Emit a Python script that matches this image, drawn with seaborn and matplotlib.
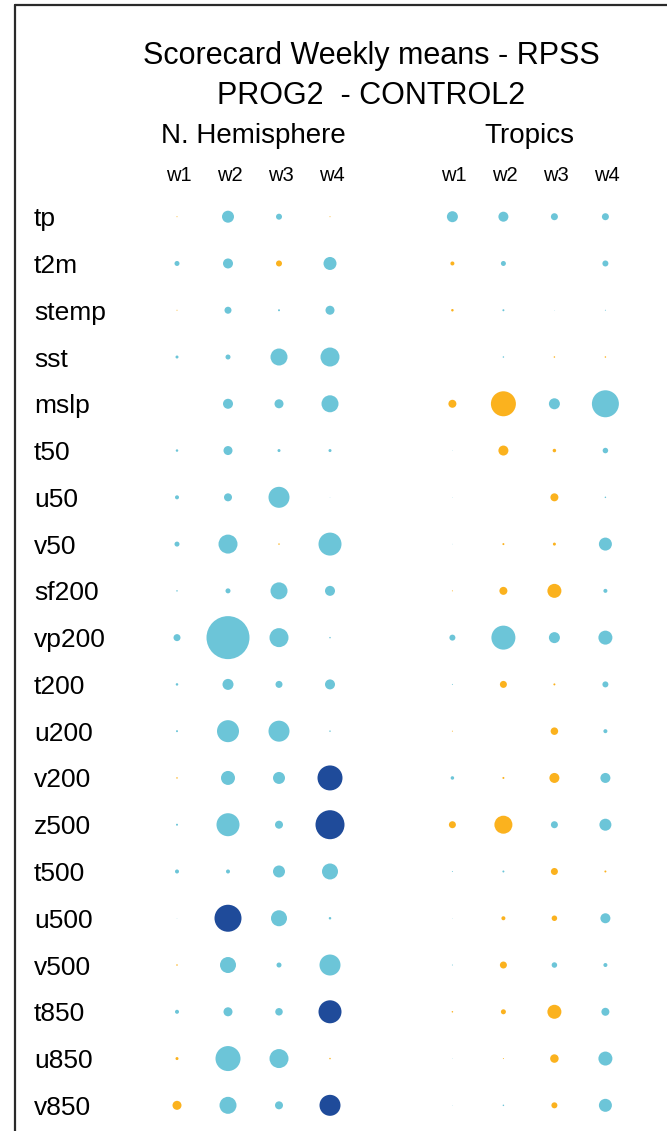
import pandas as pd
import seaborn as sns
import matplotlib.pyplot as plt
from matplotlib import transforms
from matplotlib.lines import Line2D

sns.set_theme(style='white')
plt.rcParams['font.family'] = ['Liberation Sans', 'DejaVu Sans']
plt.rcParams['text.color'] = 'black'

# Data: dot diameter (px) and kind: b = better, o = worse, d = significantly better
variables = ['tp', 't2m', 'stemp', 'sst', 'mslp', 't50', 'u50', 'v50', 'sf200', 'vp200',
             't200', 'u200', 'v200', 'z500', 't500', 'u500', 'v500', 't850', 'u850', 'v850']
weeks = ['w1', 'w2', 'w3', 'w4']
regions = ['N. Hemisphere', 'Tropics']

nh_size = [
    [1, 12, 6, 1], [5, 10, 6, 13], [1, 7, 2, 9], [3, 5, 17, 19], [0, 10, 9, 17],
    [2.5, 9, 3, 3], [4, 8, 21, 0.5], [5, 19, 1.5, 23], [1.5, 5, 17, 10], [7, 43, 19, 1.5],
    [2.5, 11, 7, 10], [2, 22, 21, 1.5], [1.5, 14, 12, 25], [2, 23, 8, 29], [4, 4, 12, 16],
    [0.5, 27, 16, 2.5], [1.5, 16, 5, 21], [4, 9, 7.5, 23], [3, 25, 19, 1.5], [9, 17, 8, 21],
]
nh_kind = [
    'obbo', 'bbob', 'obbb', 'bbbb', 'bbbb',
    'bbbb', 'bbbb', 'bbob', 'bbbb', 'bbbb',
    'bbbb', 'bbbb', 'obbd', 'bbbd', 'bbbb',
    'bdbb', 'obbb', 'bbbd', 'obbo', 'obbd',
]
tr_size = [
    [11, 10, 7, 7], [4, 5, 0, 6], [2.5, 2, 0.5, 1], [0, 1.5, 1.5, 1.5], [8, 25, 11, 27],
    [0.5, 10, 3.5, 5.5], [0.5, 0, 8, 1.5], [0.5, 2, 3, 13], [1, 8, 14, 4], [6, 24, 11, 14],
    [1, 7, 2, 6], [1, 0, 7.5, 4], [3.5, 2, 10, 10], [7, 18, 7, 12], [1, 2, 7, 2],
    [0.5, 4, 5.5, 10], [1, 7, 5.5, 4], [1.5, 5, 14, 8], [0.5, 1, 8.5, 14], [0.5, 1.5, 6, 13],
]
tr_kind = [
    'bbbb', 'obbb', 'obbb', 'bboo', 'oobb',
    'boob', 'bbob', 'boob', 'ooob', 'bbbb',
    'boob', 'obob', 'boob', 'oobb', 'bboo',
    'boob', 'bobb', 'ooob', 'boob', 'bbob',
]

rows = []
for reg, sizes, kinds in [(regions[0], nh_size, nh_kind), (regions[1], tr_size, tr_kind)]:
    for i, var in enumerate(variables):
        for j, wk in enumerate(weeks):
            rows.append({'region': reg, 'variable': var, 'week': wk,
                         'dot': sizes[i][j], 'kind': kinds[i][j]})
df = pd.DataFrame(rows)

# layout (pixels)
DPI = 100
W, H = 667, 1131
x0, col_step = 177, 51
y0, row_step = 216.7, 46.77
region_gap = 5.4

df['xpos'] = df['week'].map({w: i for i, w in enumerate(weeks)}) + \
    df['region'].map({r: k * region_gap for k, r in enumerate(regions)})
df['ypos'] = df['variable'].map({v: i for i, v in enumerate(variables)})
df['area'] = (df['dot'] * 72 / DPI) ** 2

fig = plt.figure(figsize=(W / DPI, H / DPI), dpi=DPI)
ax = fig.add_axes([0, 0, 1, 1])

palette = {'b': '#6cc5d8', 'o': '#fbb21e', 'd': '#1f4b9a'}
amax = df['area'].max()
sns.scatterplot(data=df, x='xpos', y='ypos', hue='kind', size='area',
                sizes=(0, amax), size_norm=(0, amax), palette=palette,
                linewidth=0, legend=False, ax=ax)
ax.set_xlim(-x0 / col_step, (W - x0) / col_step)
ax.set_ylim((H - y0) / row_step, -y0 / row_step)
ax.axis('off')

# row labels
trans_rows = transforms.blended_transform_factory(fig.transFigure, ax.transData)
for i, var in enumerate(variables):
    ax.text(34 / W, i + 9.5 / row_step, var, transform=trans_rows,
            ha='left', va='baseline', fontsize=19, color='black')

# column headers
trans_cols = transforms.blended_transform_factory(ax.transData, fig.transFigure)
for k, reg in enumerate(regions):
    ax.text(1.5 + k * region_gap, 1 - 143 / H, reg, transform=trans_cols,
            ha='center', va='baseline', fontsize=20, color='black')
    for j, wk in enumerate(weeks):
        ax.text(j + k * region_gap + 0.03, 1 - 181 / H, wk, transform=trans_cols,
                ha='center', va='baseline', fontsize=14.5, color='black')

fig.text(371 / W, 1 - 64 / H, 'Scorecard Weekly means - RPSS',
         ha='center', va='baseline', fontsize=22, color='black')
fig.text(371 / W, 1 - 104 / H, 'PROG2  - CONTROL2',
         ha='center', va='baseline', fontsize=22, color='black')

# frame
fig.add_artist(Line2D([15 / W, 15 / W], [0, 1 - 5 / H], color='#2a2a2a', lw=1.6))
fig.add_artist(Line2D([15 / W, 1], [1 - 5 / H, 1 - 5 / H], color='#2a2a2a', lw=1.6))

fig.savefig('out.png', dpi=DPI)
